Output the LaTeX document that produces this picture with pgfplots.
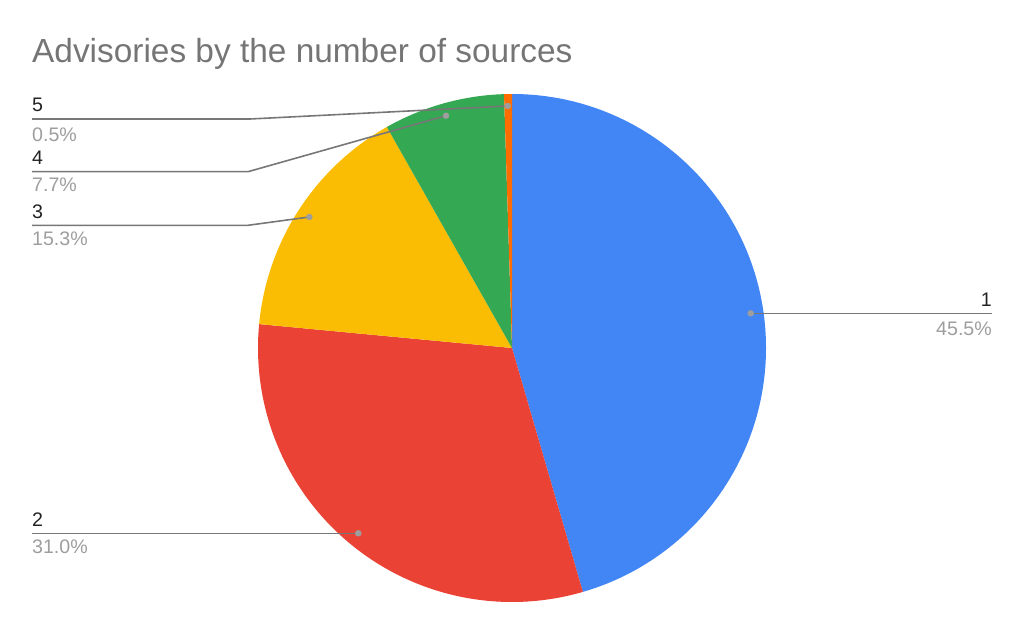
\documentclass[border=0pt]{standalone}
\usepackage{pgfplots}
\pgfplotsset{compat=1.18}
\usepackage{pgfplotstable}
\usepackage{fontspec}
\setmainfont{Liberation Sans}
\definecolor{pie0}{HTML}{4285F4}
\definecolor{pie1}{HTML}{EA4335}
\definecolor{pie2}{HTML}{FBBC04}
\definecolor{pie3}{HTML}{34A853}
\definecolor{pie4}{HTML}{FF6D01}
\definecolor{titlegray}{HTML}{757575}
\definecolor{leadgray}{HTML}{777777}
\definecolor{dotgray}{HTML}{9E9E9E}
\definecolor{pctgray}{HTML}{9E9E9E}
\definecolor{labblack}{HTML}{222222}
\pgfplotstableread{
label pct
1 45.5
2 31.0
3 15.3
4 7.7
5 0.5
}\piedata
\begin{document}
\begin{tikzpicture}
\begin{axis}[width=1024pt,height=633pt,scale only axis,
  xmin=0,xmax=1024,ymin=0,ymax=633,hide axis,clip=false]
\pgfplotsextra{%
  \gdef\cum{0}%
  \foreach \i in {0,...,4}{%
    \pgfplotstablegetelem{\i}{pct}\of\piedata
    \let\pv\pgfplotsretval
    \pgfmathsetmacro\va{90-3.6*\cum}%
    \pgfmathsetmacro\vb{90-3.6*(\cum+\pv)}%
    \pgfmathsetmacro\nc{\cum+\pv}%
    \fill[pie\i] (axis cs:512,285) -- ++(\va:254pt) arc[start angle=\va,end angle=\vb,radius=254pt] -- cycle;
    \xdef\cum{\nc}%
  }%
  \path (axis cs:0,0) rectangle (axis cs:1024,633);
}
% leader lines
\addplot[leadgray, line width=1.6pt] coordinates {(750.7,319.7) (992,319.7)};
\addplot[leadgray, line width=1.6pt] coordinates {(358.3,99.7) (32,99.7)};
\addplot[leadgray, line width=1.6pt] coordinates {(309.3,416) (248,407.7) (32,407.7)};
\addplot[leadgray, line width=1.6pt] coordinates {(446,517.3) (248,461.3) (32,461.3)};
\addplot[leadgray, line width=1.6pt] coordinates {(507.7,527) (250,514) (32,514)};
% dots
\addplot[only marks, mark=*, mark size=3pt, dotgray, mark options={draw=none,fill=dotgray}]
  coordinates {(750.7,319.7) (358.3,99.7) (309.3,416) (446,517.3) (507.7,527)};
% title
\node[anchor=base west, inner sep=0pt, text=titlegray, font=\fontsize{33.4}{36}\selectfont] at (axis cs:32,570.3) {Advisories by the number of sources};
% labels
\begin{scope}[every node/.style={inner sep=0pt, font=\fontsize{19.6}{22}\selectfont}]
\node[anchor=base east, text=labblack] at (axis cs:992,326.3) {1};
\node[anchor=base east, text=pctgray] at (axis cs:992,298) {45.5\%};
\node[anchor=base west, text=labblack] at (axis cs:32,107) {2};
\node[anchor=base west, text=pctgray] at (axis cs:32,80) {31.0\%};
\node[anchor=base west, text=labblack] at (axis cs:32,414.7) {3};
\node[anchor=base west, text=pctgray] at (axis cs:32,387.7) {15.3\%};
\node[anchor=base west, text=labblack] at (axis cs:32,468.3) {4};
\node[anchor=base west, text=pctgray] at (axis cs:32,441.3) {7.7\%};
\node[anchor=base west, text=labblack] at (axis cs:32,521) {5};
\node[anchor=base west, text=pctgray] at (axis cs:32,491.5) {0.5\%};
\end{scope}
\end{axis}
\end{tikzpicture}
\end{document}
